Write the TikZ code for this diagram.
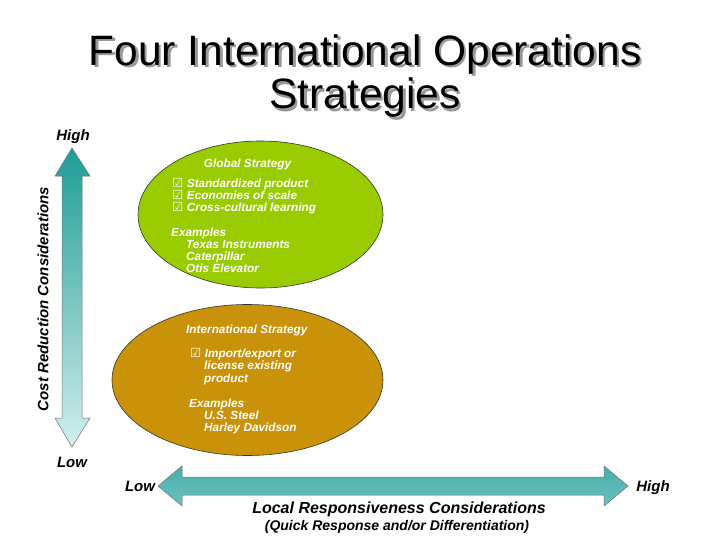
\documentclass[tikz,border=0pt]{standalone}
\usepackage{fontspec}
\setmainfont{Liberation Sans}
\newfontfamily\dejavu{DejaVu Sans}
\usetikzlibrary{shapes.geometric}
\definecolor{gstrat}{HTML}{99CC00}
\definecolor{istrat}{HTML}{C99208}
\definecolor{tealdark}{HTML}{1E9C96}
\definecolor{teallight}{HTML}{D2EEEE}
\definecolor{tealtop}{HTML}{46AEAB}
\definecolor{tealstripe}{HTML}{9AD6D4}
\definecolor{tealbot}{HTML}{6CC2C0}
\newcommand{\cbox}{{\dejavu\fontsize{12.5}{12.5}\selectfont ☑}}
\newcommand{\shadowtext}[1]{\leavevmode\rlap{\hspace{2.5pt}\raisebox{-2.5pt}{\textcolor{black!40}{#1}}}#1}
\tikzset{
  ell/.style={draw=black!80, line width=0.6pt, ellipse, inner sep=0pt},
  intext/.style={text=white, font=\fontsize{11.8}{13}\selectfont\bfseries\itshape, inner sep=0pt, anchor=base west},
  axlab/.style={font=\fontsize{15}{17}\selectfont\bfseries\itshape, inner sep=0pt, anchor=base},
  titletext/.style={font=\fontsize{42.5}{44}\selectfont, inner sep=0pt, anchor=base}
}
\begin{document}
\begin{tikzpicture}[x=1pt,y=-1pt]
\useasboundingbox (0,0) rectangle (728,546);
\fill[white] (0,0) rectangle (728,546);
% title
\node[titletext] (title1) at (365,65) {\shadowtext{Four International Operations}};
\node[titletext] (title2) at (365,108.5) {\shadowtext{Strategies}};
% ellipses
\node[ell, fill=gstrat, minimum width=245pt, minimum height=147pt] (global) at (260.5,214.5) {};
\node[ell, fill=istrat, minimum width=271pt, minimum height=151pt] (intl) at (247.5,380) {};
% global text
\node[intext, anchor=base] (gtitle) at (247.5,167) {Global Strategy};
\node[intext] (g1) at (172,187) {\cbox\hspace{3.5pt}Standardized product};
\node[intext] (g2) at (172,199) {\cbox\hspace{3.5pt}Economies of scale};
\node[intext] (g3) at (172,211) {\cbox\hspace{3.5pt}Cross-cultural learning};
\node[intext] (g4) at (171,236) {Examples};
\node[intext] (g5) at (186,248) {Texas Instruments};
\node[intext] (g6) at (186,260) {Caterpillar};
\node[intext] (g7) at (186,272.5) {Otis Elevator};
% international text
\node[intext] (i0) at (186,333) {International Strategy};
\node[intext] (i1) at (190,357) {\cbox\hspace{3.5pt}Import/export or};
\node[intext] (i2) at (204,369.5) {license existing};
\node[intext] (i3) at (204,382) {product};
\node[intext] (i4) at (189,407) {Examples};
\node[intext] (i5) at (204,419) {U.S. Steel};
\node[intext] (i6) at (204,431) {Harley Davidson};
% vertical arrow
\shade[top color=tealdark, bottom color=teallight, draw=black!55, line width=0.5pt]
  (72,148) -- (90,176) -- (82,176) -- (82,418) -- (90,418) -- (72,447) -- (55,418) -- (62,418) -- (62,176) -- (55,176) -- cycle;
\node[axlab] (vhigh) at (73,140) {High};
\node[axlab] (vlow) at (72,467) {Low};
\node[font=\fontsize{15}{17}\selectfont\bfseries\itshape, inner sep=0pt, rotate=90] (vlab) at (43,299) {Cost Reduction Considerations};
% horizontal arrow
\shade[top color=tealtop, middle color=tealstripe, bottom color=tealbot, draw=black!55, line width=0.5pt]
  (158,486) -- (182,466) -- (182,477) -- (604,477) -- (604,466) -- (628,486) -- (604,506) -- (604,495) -- (182,495) -- (182,506) -- cycle;
\node[axlab] (hlow) at (140,491.5) {Low};
\node[axlab] (hhigh) at (653,491.5) {High};
\node[font=\fontsize{16}{18}\selectfont\bfseries\itshape, inner sep=0pt, anchor=base] (hlab) at (399,513) {Local Responsiveness Considerations};
\node[font=\fontsize{14}{16}\selectfont\bfseries\itshape, inner sep=0pt, anchor=base] (hsub) at (397,530) {(Quick Response and/or Differentiation)};
\end{tikzpicture}
\end{document}
